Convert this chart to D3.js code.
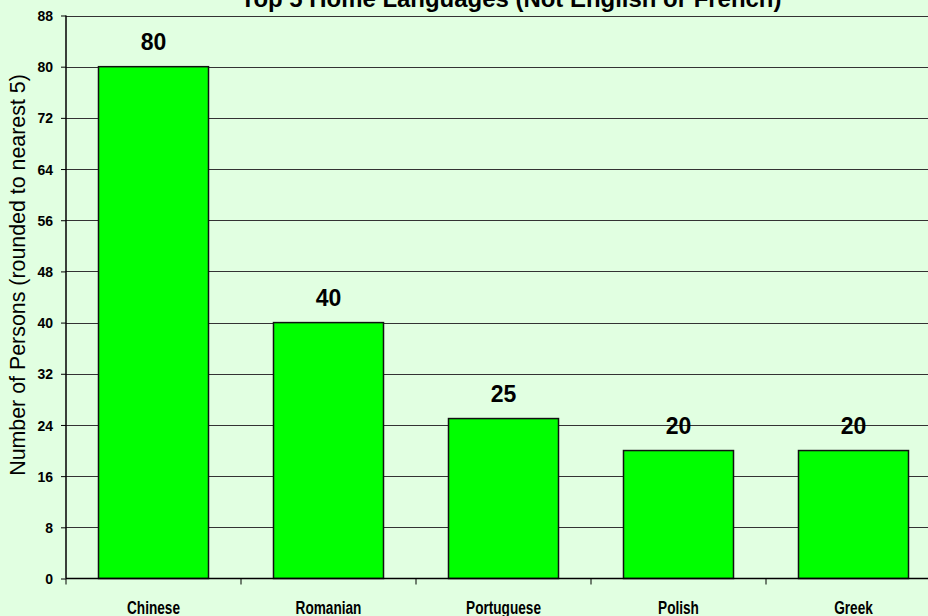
<!DOCTYPE html>
<html>
<head>
<meta charset="utf-8">
<script src="https://cdn.jsdelivr.net/npm/d3@7"></script>
<style>
  html, body { margin: 0; padding: 0; background: #E1FFE1; }
  svg { display: block; }
</style>
</head>
<body>
<svg id="chart" width="928" height="616"></svg>
<script>
const categories = ["Chinese", "Romanian", "Portuguese", "Polish", "Greek"];
const values = [80, 40, 25, 20, 20];
const yTicks = [0, 8, 16, 24, 32, 40, 48, 56, 64, 72, 80, 88];
const titleText = "Top 5 Home Languages (Not English or French)";
const yLabelText = "Number of Persons (rounded to nearest 5)";

(function () {
const svg = d3.select("#chart");
const W = 928, H = 616;
const mLeft = 66, mTop = 15.5, mBottom = 578.5;
const step = 175;
const sans = "Arial, 'Liberation Sans', sans-serif";

svg.append("rect").attr("width", W).attr("height", H).attr("fill", "#E1FFE1");

const x = d3.scaleBand().domain(categories).range([mLeft, mLeft + step * categories.length])
  .paddingInner(0.3714).paddingOuter(0.1857);
const xb = d3.scaleBand().domain(categories).range([mLeft, mLeft + step * categories.length]).padding(0);
const y = d3.scaleLinear().domain([0, 88]).range([mBottom, mTop]);

// gridlines
svg.append("g").selectAll("line").data(yTicks.filter(d => d > 0)).join("line")
  .attr("x1", mLeft).attr("x2", W)
  .attr("y1", d => Math.round(y(d)) + 0.5).attr("y2", d => Math.round(y(d)) + 0.5)
  .attr("stroke", "#333").attr("stroke-width", 1);

// bars
svg.append("g").selectAll("rect").data(values).join("rect")
  .attr("x", (d, i) => x(categories[i]))
  .attr("y", d => y(d))
  .attr("width", x.bandwidth())
  .attr("height", d => y(0) - y(d))
  .attr("fill", "#00FF00").attr("stroke", "#111").attr("stroke-width", 1.5);

// value labels
svg.append("g").selectAll("text").data(values).join("text")
  .attr("x", (d, i) => x(categories[i]) + x.bandwidth() / 2)
  .attr("y", d => y(d) - 17)
  .attr("text-anchor", "middle")
  .style("font-family", sans)
  .style("font-weight", "bold").style("font-size", "23px")
  .text(d => d);

// y axis
const yAxis = d3.axisLeft(y).tickValues(yTicks).tickSize(5).tickPadding(8).tickFormat(d3.format("d"));
const gy = svg.append("g").attr("transform", `translate(${mLeft},0)`).call(yAxis);
gy.select(".domain").attr("stroke", "#000").attr("stroke-width", 1.5).attr("d", `M0,${mTop}V${mBottom}`);
gy.selectAll(".tick line").attr("stroke", "#000");
gy.selectAll(".tick text").attr("dy", "0.36em")
  .style("font-family", sans)
  .style("font-weight", "bold").style("font-size", "14px").attr("fill", "#000");

// x axis
const xAxis = d3.axisBottom(xb).tickSize(0).tickPadding(0);
const gx = svg.append("g").attr("transform", `translate(0,${mBottom})`).call(xAxis);
gx.select(".domain").attr("stroke", "#000").attr("stroke-width", 1.5).attr("d", `M${mLeft},0H${W}`);
const xt = gx.selectAll(".tick text").attr("y", 0).attr("dy", 0)
  .style("font-family", sans)
  .style("font-weight", "bold").style("font-size", "18px").attr("fill", "#000");
// condense horizontally to match the narrow face of the reference
const chineseLen = xt.filter(d => d === "Chinese").node().getComputedTextLength();
const sx = 53 / chineseLen;
xt.attr("transform", `translate(0,35) scale(${sx},1)`);
// category separator ticks
svg.append("g").selectAll("line").data(d3.range(categories.length + 1)).join("line")
  .attr("x1", i => mLeft + i * step).attr("x2", i => mLeft + i * step)
  .attr("y1", mBottom).attr("y2", mBottom + 6)
  .attr("stroke", "#000").attr("stroke-width", 1);

// title
const title = svg.append("text").attr("x", 511).attr("y", 7).attr("text-anchor", "middle")
  .style("font-family", sans)
  .style("font-weight", "bold").style("font-size", "18px").text(titleText);
const tl = title.node().getComputedTextLength();
title.style("font-size", (18 * 541 / tl) + "px");

// y label
const yl = svg.append("text").attr("transform", "translate(25,275) rotate(-90)")
  .attr("text-anchor", "middle")
  .style("font-family", sans)
  .style("font-size", "16px").text(yLabelText);
const yll = yl.node().getComputedTextLength();
yl.style("font-size", (16 * 402 / yll) + "px");
})();
</script>
</body>
</html>
